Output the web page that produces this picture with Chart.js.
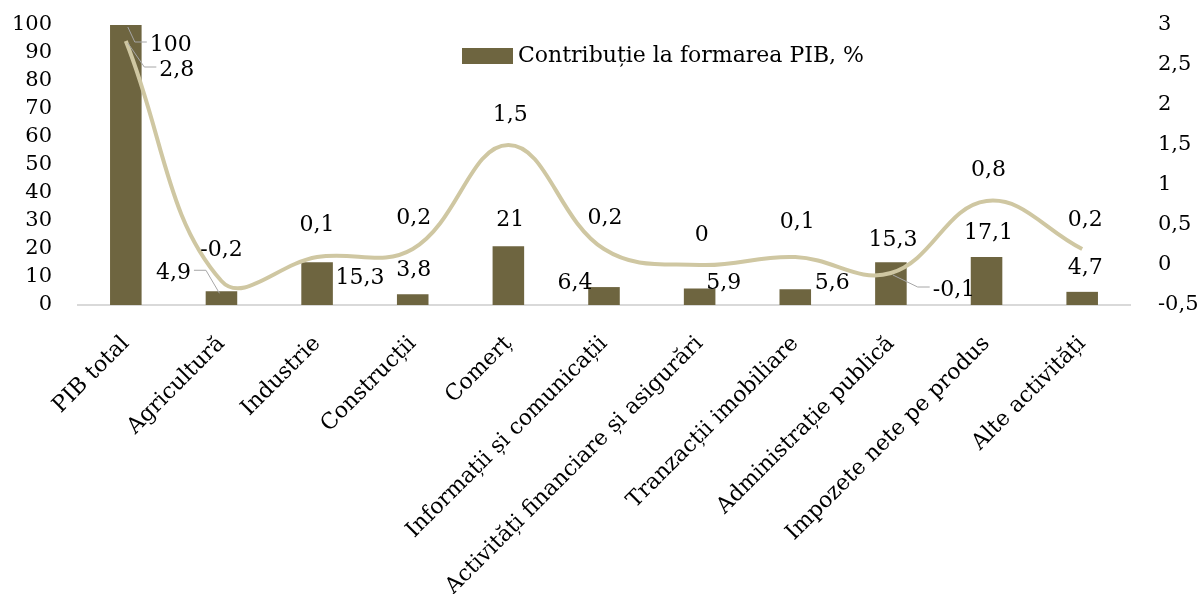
<!DOCTYPE html>
<html>
<head>
<meta charset="utf-8">
<script src="https://cdn.jsdelivr.net/npm/chart.js@4/dist/chart.umd.min.js"></script>
<style>
  html, body { margin: 0; padding: 0; background: #fff; }
  #wrap { width: 1204px; height: 594px; position: relative; }
</style>
</head>
<body>
<div id="wrap"><canvas id="chart"></canvas></div>
<script>
  // ---------- date ----------
  const categories = ['PIB total', 'Agricultură', 'Industrie', 'Construcții', 'Comerț',
    'Informații și comunicații', 'Activități financiare și asigurări', 'Tranzacții imobiliare',
    'Administrație publică', 'Impozete nete pe produs', 'Alte activități'];
  const contributie = [100, 4.9, 15.3, 3.8, 21, 6.4, 5.9, 5.6, 15.3, 17.1, 4.7];
  const crestere = [2.8, -0.2, 0.1, 0.2, 1.5, 0.2, 0, 0.1, -0.1, 0.8, 0.2];
  const leftTicks = [0, 10, 20, 30, 40, 50, 60, 70, 80, 90, 100];
  const rightTicks = [-0.5, 0, 0.5, 1, 1.5, 2, 2.5, 3];
  const legendLabel = 'Contribuție la formarea PIB, %';

  const BAR_COLOR = '#6e6540';
  const LINE_COLOR = '#cfc7a2';
  const FONT = "'DejaVu Serif', serif";

  // pozitia etichetelor fata de varful barei / punctului (dx, dy, leader)
  const barLabelPos = [[45, 20, 1], [-48, -18, 1], [43, 16, 0], [1, -24, 0], [2, -26, 0], [-29, -4, 0],
    [24, -5, 0], [37, -6, 0], [2, -22, 0], [2, -24, 0], [3, -24, 0]];
  const lineLabelPos = [[51, 29, 1], [0, -31, 0], [0, -32, 0], [1, -31, 0], [2, -30, 0], [1, -31, 0],
    [2, -30, 0], [2, -35, 0], [63, 17, 1], [2, -31, 0], [3, -29, 0]];

  const fmt = v => String(v).replace('.', ',');

  // etichete de date + legenda desenate manual
  const labelsPlugin = {
    id: 'dataLabels',
    afterDatasetsDraw(chart) {
      const ctx = chart.ctx;
      ctx.save();
      ctx.font = '22px ' + FONT;
      ctx.fillStyle = '#000';
      ctx.textAlign = 'center';
      ctx.textBaseline = 'middle';
      chart.data.datasets.forEach((ds, di) => {
        const meta = chart.getDatasetMeta(di);
        const pos = ds.type === 'bar' ? barLabelPos : lineLabelPos;
        meta.data.forEach((el, i) => {
          const [dx, dy, leader] = pos[i];
          const lx = el.x + dx, ly = el.y + dy;
          const txt = fmt(ds.data[i]);
          if (leader) {
            const w = ctx.measureText(txt).width;
            const sign = dx > 0 ? 1 : -1;
            const ex = lx - sign * (w / 2 + 3);
            ctx.strokeStyle = '#a6a6a6';
            ctx.lineWidth = 1;
            ctx.beginPath();
            ctx.moveTo(ex, ly - 3);
            ctx.lineTo(ex - sign * 12, ly - 3);
            ctx.lineTo(el.x + sign * 2, el.y + 2);
            ctx.stroke();
          }
          ctx.fillText(txt, lx, ly);
        });
      });
      // legenda
      const a = chart.chartArea;
      const bx = a.left + 384, by = a.top + 23;
      ctx.fillStyle = BAR_COLOR;
      ctx.fillRect(bx, by, 51, 16);
      ctx.fillStyle = '#000';
      ctx.textAlign = 'left';
      ctx.font = '22px ' + FONT;
      ctx.fillText(legendLabel, bx + 56, by + 8);
      ctx.restore();
    }
  };

  // fara spatiu suplimentar deasupra/sub axele verticale
  function fitY(width) {
    return s => { s.width = width; s.paddingTop = 0; s.paddingBottom = 0; };
  }

  const ctx = document.getElementById('chart').getContext('2d');
  new Chart(ctx, {
    data: {
      labels: categories,
      datasets: [
        {
          type: 'line',
          label: 'Creștere',
          data: crestere,
          yAxisID: 'y1',
          borderColor: LINE_COLOR,
          borderWidth: 4,
          pointRadius: 0,
          tension: 0.4,
          fill: false,
          order: 0
        },
        {
          type: 'bar',
          label: legendLabel,
          data: contributie,
          yAxisID: 'y',
          backgroundColor: BAR_COLOR,
          categoryPercentage: 1,
          barPercentage: 0.33,
          order: 1
        }
      ]
    },
    options: {
      responsive: true,
      maintainAspectRatio: false,
      animation: false,
      layout: { padding: { top: 25, left: 0, right: 0, bottom: 0 } },
      plugins: { legend: { display: false }, tooltip: { enabled: false } },
      scales: {
        x: {
          grid: { display: false, drawTicks: false },
          border: { display: true, color: '#d9d9d9', width: 2 },
          ticks: { autoSkip: false, maxRotation: 45, minRotation: 45, padding: 26,
            color: '#000', font: { family: FONT, size: 22 } },
          afterFit: s => { s.height = 289; }
        },
        y: {
          position: 'left',
          min: 0, max: 100,
          afterBuildTicks: s => { s.ticks = leftTicks.map(v => ({ value: v })); },
          grid: { display: false, drawTicks: false },
          border: { display: false },
          ticks: { autoSkip: false, padding: 26, color: '#000', font: { family: FONT, size: 21 } },
          afterFit: fitY(78)
        },
        y1: {
          position: 'right',
          min: -0.5, max: 3,
          afterBuildTicks: s => { s.ticks = rightTicks.map(v => ({ value: v })); },
          grid: { display: false, drawTicks: false },
          border: { display: false },
          ticks: { autoSkip: false, padding: 28, color: '#000', font: { family: FONT, size: 21 }, callback: v => fmt(v) },
          afterFit: fitY(74)
        }
      }
    },
    plugins: [labelsPlugin]
  });
</script>
</body>
</html>
